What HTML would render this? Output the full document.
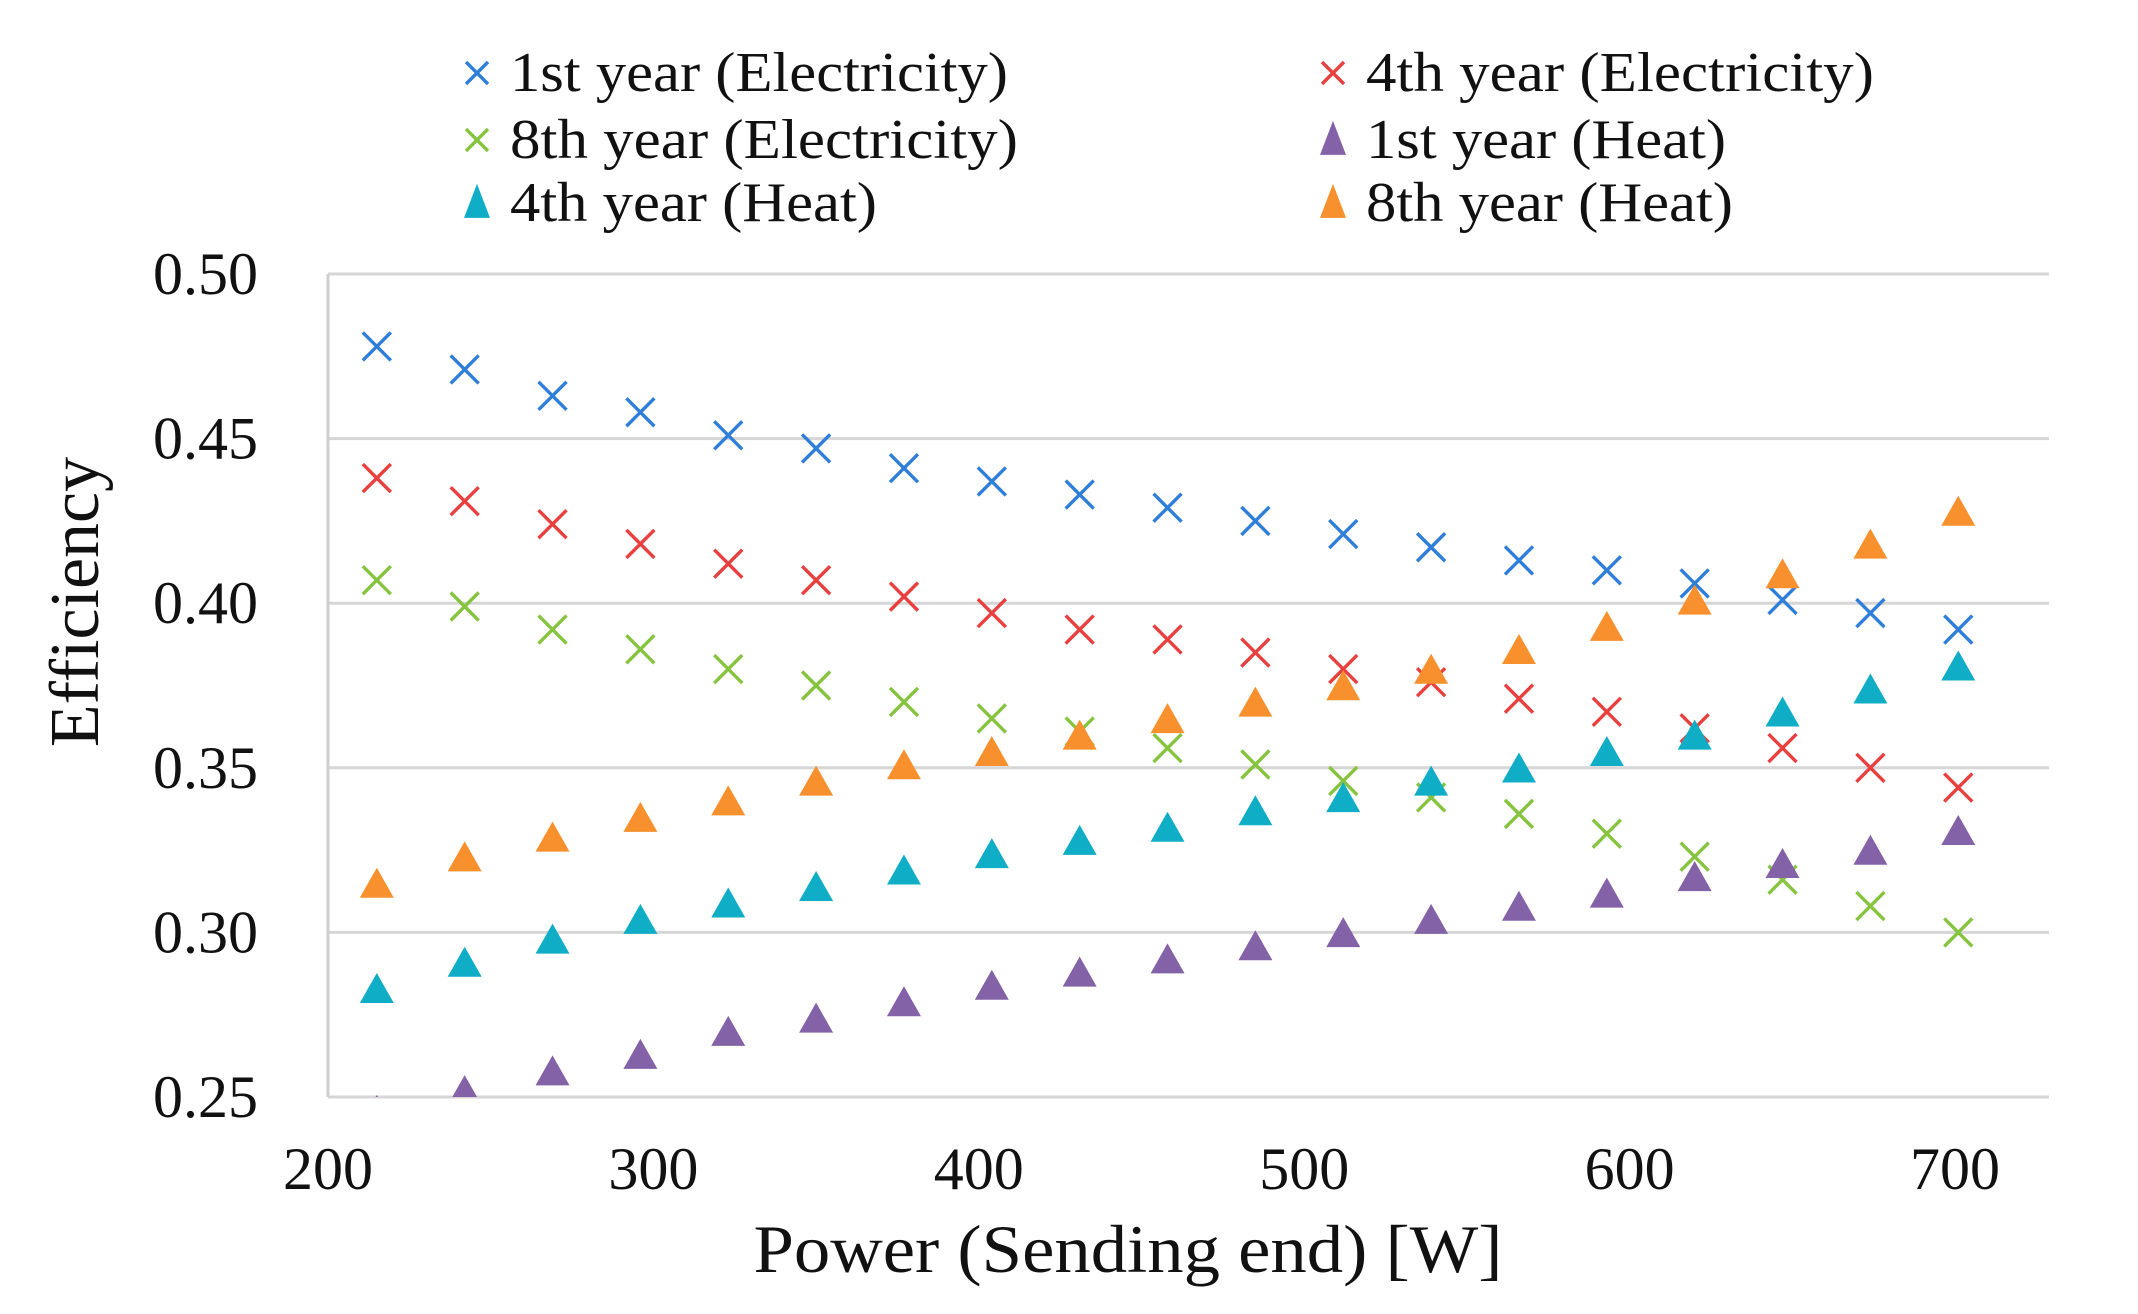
<!DOCTYPE html>
<html><head><meta charset="utf-8"><style>
html,body{margin:0;padding:0;background:#fff;}
svg{display:block;}
text{font-family:"Liberation Serif",serif;fill:#111;}
</style></head><body>
<svg id="chart" width="2138" height="1314" viewBox="0 0 2138 1314" xmlns="http://www.w3.org/2000/svg">
<g id="grid"></g>
<g id="axes"></g>
<g id="marks"></g>
<g id="legend"></g>
<text x="0" y="0" transform="translate(98,602) rotate(-90)" text-anchor="middle" font-size="70">Efficiency</text>
<text x="1128" y="1272" text-anchor="middle" font-size="68" textLength="749" lengthAdjust="spacingAndGlyphs">Power (Sending end) [W]</text>
</svg>
<script>
const xValues = [215,242,269,296,323,350,377,404,431,458,485,512,539,566,593,620,647,674,701];
const elec1 = [0.478,0.471,0.463,0.458,0.451,0.447,0.441,0.437,0.433,0.429,0.425,0.421,0.417,0.413,0.410,0.406,0.401,0.397,0.392];
const elec4 = [0.438,0.431,0.424,0.418,0.412,0.407,0.402,0.397,0.392,0.389,0.385,0.380,0.376,0.371,0.367,0.362,0.356,0.350,0.344];
const elec8 = [0.407,0.399,0.392,0.386,0.380,0.375,0.370,0.365,0.361,0.356,0.351,0.346,0.341,0.336,0.330,0.323,0.316,0.308,0.300];
const heat1 = [0.245,0.251,0.257,0.262,0.269,0.273,0.278,0.283,0.287,0.291,0.295,0.299,0.303,0.307,0.311,0.316,0.320,0.324,0.330];
const heat4 = [0.282,0.290,0.297,0.303,0.308,0.313,0.318,0.323,0.327,0.331,0.336,0.340,0.345,0.349,0.354,0.359,0.366,0.373,0.380];
const heat8 = [0.314,0.322,0.328,0.334,0.339,0.345,0.350,0.354,0.359,0.364,0.369,0.374,0.379,0.385,0.392,0.400,0.408,0.417,0.427];
const yTicks = [0.25,0.30,0.35,0.40,0.45,0.50];
const yTickLabels = ["0.25","0.30","0.35","0.40","0.45","0.50"];
const xTicks = [200,300,400,500,600,700];
const legendLabels = ["1st year (Electricity)","4th year (Electricity)","8th year (Electricity)","1st year (Heat)","4th year (Heat)","8th year (Heat)"];

const NS="http://www.w3.org/2000/svg";
const L=328,R=2049,T=274,B=1097;
function xs(v){return L+(v-200)*3.254;}
function ys(v){return T+(0.5-v)*(B-T)/0.25;}
function mk(tag,attrs,parent){const e=document.createElementNS(NS,tag);for(const k in attrs)e.setAttribute(k,attrs[k]);parent.appendChild(e);return e;}
const grid=document.getElementById('grid'),axes=document.getElementById('axes'),marks=document.getElementById('marks'),legend=document.getElementById('legend');

yTicks.forEach((t,i)=>{
  const g=mk('line',{x1:L,x2:R,y1:ys(t),y2:ys(t),stroke:'#d6d6d6','stroke-width':3},grid);
  
  
  const tx=mk('text',{x:258,y:ys(t)+20,'text-anchor':'end','font-size':60},axes);
  tx.textContent=yTickLabels[i];
  
  
});
const ax=mk('line',{x1:L,x2:L,y1:T,y2:B,stroke:'#cfcfcf','stroke-width':3},axes);


xTicks.forEach(t=>{
  const tx=mk('text',{x:xs(t),y:1189,'text-anchor':'middle','font-size':60},axes);
  tx.textContent=String(t);
  
  
});

function drawX(g,cx,cy,color,h){
  mk('path',{d:`M${cx-h},${cy-h}L${cx+h},${cy+h}M${cx-h},${cy+h}L${cx+h},${cy-h}`,stroke:color,'stroke-width':3.4,fill:'none'},g);
}
function drawTri(g,cx,cy,color,w,hh){
  mk('path',{d:`M${cx},${cy-hh*0.62}L${cx+w/2},${cy+hh*0.38}L${cx-w/2},${cy+hh*0.38}Z`,fill:color},g);
}
const series=[
  {vals:elec1,color:'#2f7ed8',type:'x',name:'series-1st-year-electricity'},
  {vals:elec4,color:'#e8403f',type:'x',name:'series-4th-year-electricity'},
  {vals:elec8,color:'#86c440',type:'x',name:'series-8th-year-electricity'},
  {vals:heat1,color:'#8462a8',type:'t',name:'series-1st-year-heat'},
  {vals:heat4,color:'#0fadc6',type:'t',name:'series-4th-year-heat'},
  {vals:heat8,color:'#f8902e',type:'t',name:'series-8th-year-heat'}
];
const clip=mk('clipPath',{id:'pc'},document.getElementById('chart'));
mk('rect',{x:L,y:T-40,width:R-L,height:B-T+40},clip);
marks.setAttribute('clip-path','url(#pc)');
series.forEach(s=>{
  const g=mk('g',{},marks);
  
  
  s.vals.forEach((v,i)=>{
    const cx=xs(xValues[i]),cy=ys(v);
    if(s.type==='x')drawX(g,cx,cy,s.color,14);else drawTri(g,cx,cy,s.color,34,30);
  });
});
const legPos=[[477,73],[1333,73],[477,140],[1333,140],[477,203],[1333,203]];
const legSeries=[0,1,2,3,4,5];
const legWidths=[498,508,508,360,367,367];
legSeries.forEach((si,i)=>{
  const s=series[si];const [lx,ly]=legPos[i];
  const g=mk('g',{},legend);
  
  
  if(s.type==='x')drawX(g,lx,ly,s.color,11);else drawTri(g,lx,ly+2,s.color,26,34);
  const tx=mk('text',{x:lx+33,y:ly+18,'font-size':56,textLength:legWidths[i],lengthAdjust:'spacingAndGlyphs'},g);
  tx.textContent=legendLabels[i];
});
</script>
</body></html>
